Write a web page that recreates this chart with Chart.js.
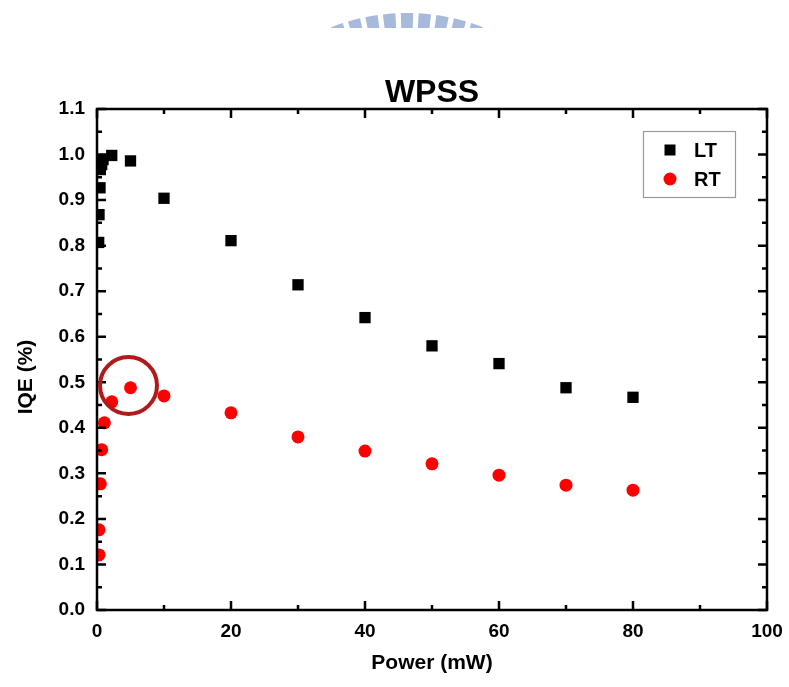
<!DOCTYPE html>
<html>
<head>
<meta charset="utf-8">
<script src="https://cdn.jsdelivr.net/npm/chart.js@4.4.1/dist/chart.umd.min.js"></script>
<style>
  html, body { margin: 0; padding: 0; background: #fff; }
  #wrap { width: 789px; height: 687px; position: relative; }
</style>
</head>
<body>
<div id="wrap"><canvas id="iqeChart" width="789" height="687"></canvas></div>
<script>
// Values
const chartTitle = 'WPSS';
const xTitle = 'Power (mW)';
const yTitle = 'IQE (%)';

const ltPower = [0.25, 0.3, 0.45, 0.5, 0.7, 0.9, 2.2, 5, 10, 20, 30, 40, 50, 60, 70, 80];
const ltIQE   = [0.807, 0.868, 0.927, 0.967, 0.978, 0.989, 0.998, 0.986, 0.904, 0.811, 0.714, 0.642, 0.580, 0.541, 0.488, 0.467];

const rtPower = [0.3, 0.3, 0.5, 0.7, 1.1, 2.2, 5, 10, 20, 30, 40, 50, 60, 70, 80];
const rtIQE   = [0.121, 0.176, 0.277, 0.352, 0.411, 0.457, 0.488, 0.470, 0.433, 0.380, 0.349, 0.321, 0.296, 0.274, 0.263];

const seriesLabels = ['LT', 'RT'];
const xRange = [0, 100];
const yRange = [0, 1.1];
const highlight = { x: 4.7, y: 0.493 };   // the hand-drawn ring around the RT peak

const FONT = '"Liberation Sans", Arial, sans-serif';

// inward tick marks on all four sides + plot box
const boxTicks = {
    id: 'boxTicks',
    afterDraw(chart) {
        const { ctx, chartArea: { left, right, top, bottom }, scales: { x, y } } = chart;
        ctx.save();
        ctx.strokeStyle = '#000';
        ctx.lineWidth = 2.5;
        ctx.beginPath();
        y.ticks.forEach(t => {
            const py = y.getPixelForValue(t.value);
            const len = Math.round(t.value * 20) % 2 === 0 ? 9 : 5;
            ctx.moveTo(left, py); ctx.lineTo(left + len, py);
            ctx.moveTo(right, py); ctx.lineTo(right - len, py);
        });
        x.ticks.forEach(t => {
            const px = x.getPixelForValue(t.value);
            const len = Math.round(t.value) % 20 === 0 ? 9 : 5;
            ctx.moveTo(px, bottom); ctx.lineTo(px, bottom - len);
            ctx.moveTo(px, top); ctx.lineTo(px, top + len);
        });
        ctx.stroke();
        ctx.strokeRect(left, top, right - left, bottom - top);
        ctx.restore();
    }
};

// title, y title, legend box and the red ring
const extras = {
    id: 'extras',
    beforeDraw(chart) {
        // faint logo stripes at the top of the page
        const ctx = chart.ctx;
        const cx = 407, cy = 222, R = 209;
        ctx.save();
        ctx.beginPath();
        ctx.rect(320, 0, 180, 28);
        ctx.clip();
        ctx.fillStyle = '#a7badb';
        for (let i = -4; i <= 4; i++) {
            const a = (-90 + i * 4.9) * Math.PI / 180;
            const h = 1.7 * Math.PI / 180;
            ctx.beginPath();
            ctx.moveTo(cx, cy);
            ctx.arc(cx, cy, R, a - h, a + h);
            ctx.closePath();
            ctx.fill();
        }
        ctx.restore();
    },
    afterDraw(chart) {
        const { ctx, chartArea: { left, right, top, bottom }, scales: { x, y } } = chart;
        ctx.save();
        ctx.fillStyle = '#000';

        ctx.font = 'bold 32px ' + FONT;
        ctx.textAlign = 'center';
        ctx.textBaseline = 'alphabetic';
        ctx.fillText(chartTitle, (left + right) / 2, 102);

        ctx.save();
        ctx.translate(26, 377);
        ctx.rotate(-Math.PI / 2);
        ctx.font = 'bold 21px ' + FONT;
        ctx.textBaseline = 'middle';
        ctx.fillText(yTitle, 0, 0);
        ctx.restore();

        // legend
        ctx.strokeStyle = '#9a9a9a';
        ctx.lineWidth = 1.2;
        ctx.strokeRect(643.5, 131.5, 92, 66);
        ctx.font = 'bold 20px ' + FONT;
        ctx.textAlign = 'left';
        ctx.textBaseline = 'middle';
        chart.data.datasets.forEach((ds, i) => {
            const my = 150 + i * 29;
            ctx.fillStyle = ds.backgroundColor;
            if (ds.pointStyle === 'rect') {
                ctx.fillRect(664.5, my - 5.5, 11, 11);
            } else {
                ctx.beginPath();
                ctx.arc(670, my, 6.5, 0, Math.PI * 2);
                ctx.fill();
            }
            ctx.fillStyle = '#000';
            ctx.fillText(ds.label, 694, my + 1);
        });

        // ring
        ctx.strokeStyle = '#b01a1a';
        ctx.lineWidth = 4;
        ctx.beginPath();
        ctx.arc(x.getPixelForValue(highlight.x), y.getPixelForValue(highlight.y), 28.5, 0, Math.PI * 2);
        ctx.stroke();
        ctx.restore();
    }
};

const ctx = document.getElementById('iqeChart').getContext('2d');
new Chart(ctx, {
    type: 'scatter',
    data: {
        datasets: [{
            label: seriesLabels[0],
            data: ltPower.map((p, i) => ({ x: p, y: ltIQE[i] })),
            pointStyle: 'rect',
            pointRadius: 8,
            backgroundColor: '#000000',
            borderWidth: 0,
            clip: 0
        }, {
            label: seriesLabels[1],
            data: rtPower.map((p, i) => ({ x: p, y: rtIQE[i] })),
            pointStyle: 'circle',
            pointRadius: 6.5,
            backgroundColor: '#ff0000',
            borderWidth: 0,
            clip: 0
        }]
    },
    options: {
        responsive: false,
        animation: false,
        layout: { padding: { top: 109, right: 22, bottom: 0, left: 0 } },
        plugins: {
            legend: { display: false },
            title: { display: false },
            tooltip: { enabled: false }
        },
        scales: {
            x: {
                type: 'linear',
                min: xRange[0],
                max: xRange[1],
                afterFit: s => { s.height = 77; s.paddingLeft = 0; s.paddingRight = 0; },
                grid: { display: false, drawTicks: false },
                border: { display: false },
                ticks: {
                    stepSize: 10,
                    padding: 10,
                    maxRotation: 0,
                    autoSkip: false,
                    color: '#000',
                    font: { family: FONT, size: 19, weight: 'bold' },
                    callback: v => (Math.round(v) % 20 === 0 ? v : '')
                },
                title: {
                    display: true,
                    text: xTitle,
                    color: '#000',
                    padding: { top: 0, bottom: 11 },
                    font: { family: FONT, size: 21, weight: 'bold' }
                }
            },
            y: {
                type: 'linear',
                min: yRange[0],
                max: yRange[1],
                afterFit: s => { s.width = 97; s.paddingTop = 0; s.paddingBottom = 0; },
                grid: { display: false, drawTicks: false },
                border: { display: false },
                ticks: {
                    stepSize: 0.05,
                    padding: 12,
                    autoSkip: false,
                    color: '#000',
                    font: { family: FONT, size: 19, weight: 'bold' },
                    callback: v => (Math.round(v * 20) % 2 === 0 ? v.toFixed(1) : '')
                }
            }
        }
    },
    plugins: [boxTicks, extras]
});
</script>
</body>
</html>
